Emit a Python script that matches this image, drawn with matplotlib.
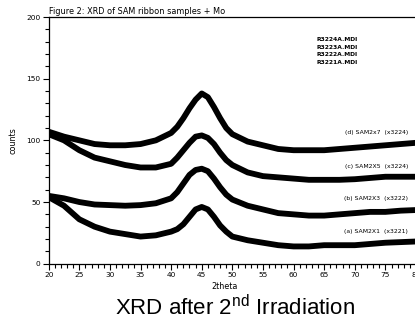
import numpy as np
import matplotlib
matplotlib.use("Agg")
import matplotlib.pyplot as plt
from matplotlib.ticker import MultipleLocator

plt.rcParams["mathtext.fontset"] = "custom"
plt.rcParams["mathtext.rm"] = "Liberation Sans"

# 2theta positions where the curves were read
two_theta = [20, 22.5, 25, 27.5, 30, 32.5, 35, 37.5, 40, 41, 42, 43, 44, 45, 46,
             47, 48, 49, 50, 52.5, 55, 57.5, 60, 62.5, 65, 67.5, 70, 72.5, 75, 77.5, 80]

# counts (offset curves)
sam2x7 = [107, 103, 100, 97, 96, 96, 97, 100, 106, 111, 118, 126, 133, 138, 135,
          127, 118, 110, 105, 99, 96, 93, 92, 92, 92, 93, 94, 95, 96, 97, 98]
sam2x5 = [105, 100, 92, 86, 83, 80, 78, 78, 81, 86, 92, 98, 103, 104, 102,
          97, 90, 84, 80, 74, 71, 70, 69, 68, 68, 68, 68.5, 69.5, 70.5, 70.5, 70.5]
sam2x3 = [55, 53, 50, 48, 47.5, 47, 47.5, 49, 53, 58, 65, 72, 76, 77, 75,
          69, 62, 56, 52, 47, 44, 41, 40, 39, 39, 40, 41, 42, 42, 43, 43.5]
sam2x1 = [54, 47, 36, 30, 26, 24, 22, 23, 26, 28, 32, 38, 44, 46, 44,
          38, 31, 26, 22, 19, 17, 15, 14, 14, 15, 15, 15, 16, 17, 17.5, 18]

series = [sam2x7, sam2x5, sam2x3, sam2x1]
labels = ["(d) SAM2x7  (x3224)", "(c) SAM2X5  (x3224)",
          "(b) SAM2X3  (x3222)", "(a) SAM2X1  (x3221)"]
label_y = [106.5, 78.5, 53, 25.7]
files = ["R3224A.MDI", "R3223A.MDI", "R3222A.MDI", "R3221A.MDI"]
file_y = [181.4, 175.4, 169.4, 163.4]

fig = plt.figure(figsize=(4.15, 3.24), dpi=100)
ax = fig.add_axes([48.7 / 415, 60.3 / 324, 367.3 / 415, 246.7 / 324])

for ys in series:
    ax.plot(two_theta, ys, color="black", lw=4.2, solid_joinstyle="round")

for lab, y in zip(labels, label_y):
    ax.text(78.7, y, lab, fontsize=4.4, ha="right", va="center")
for f, y in zip(files, file_y):
    ax.text(63.7, y, f, fontsize=4.3, ha="left", va="center", fontweight="bold")

ax.set_xlim(20, 80)
ax.set_ylim(0, 200)
ax.xaxis.set_major_locator(MultipleLocator(5))
ax.xaxis.set_minor_locator(MultipleLocator(1))
ax.yaxis.set_major_locator(MultipleLocator(50))
ax.yaxis.set_minor_locator(MultipleLocator(10))
ax.tick_params(which="major", length=4, width=0.8, labelsize=5.3, pad=2)
ax.tick_params(which="minor", length=3, width=0.8)
for s in ax.spines.values():
    s.set_linewidth(0.9)

ax.set_xlabel("2theta", fontsize=5.8, labelpad=1)
ax.xaxis.set_label_coords(0.48, -0.075)
ax.set_ylabel("counts", fontsize=5.8, labelpad=6)
ax.set_title("Figure 2: XRD of SAM ribbon samples + Mo", fontsize=5.9,
             loc="left", pad=2)

fig.text(235 / 415, 1 - 308 / 324, "XRD after 2$^{\\mathrm{nd}}$ Irradiation",
         fontsize=16, family="Liberation Sans", ha="center", va="center")

fig.savefig("out.png", dpi=100)
